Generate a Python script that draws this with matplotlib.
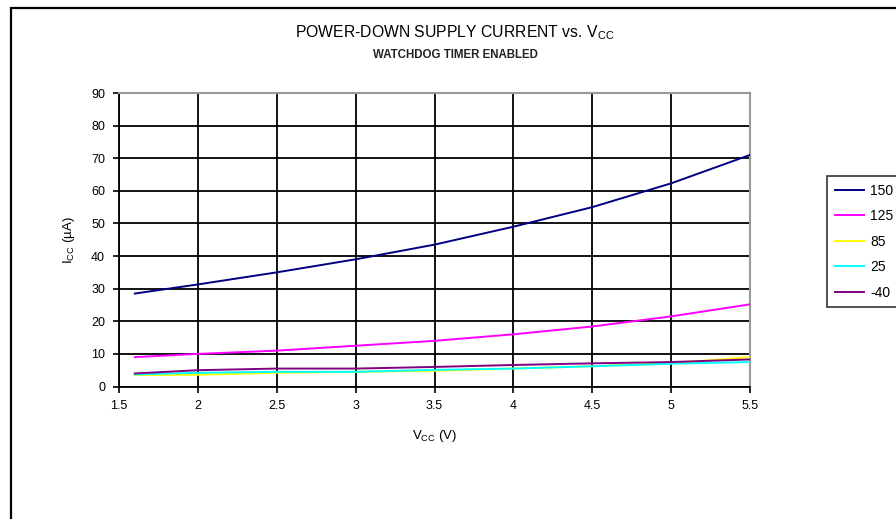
import matplotlib
matplotlib.use("Agg")
import matplotlib.pyplot as plt
from matplotlib.patches import Rectangle

plt.rcParams['font.family'] = ['Liberation Sans', 'DejaVu Sans']

vcc = [1.6, 2.0, 2.5, 3.0, 3.5, 4.0, 4.5, 5.0, 5.5]
series_labels = ["150", "125", "85", "25", "-40"]
i150 = [28.5, 31.3, 35.0, 39.0, 43.5, 49.0, 55.0, 62.3, 71.0]
i125 = [9.0, 10.0, 11.0, 12.5, 14.0, 16.0, 18.4, 21.5, 25.2]
i85 = [3.5, 3.6, 4.2, 4.5, 4.8, 5.5, 6.2, 7.2, 9.0]
i25 = [3.7, 4.2, 4.5, 4.5, 5.1, 5.5, 6.2, 7.0, 7.5]
im40 = [4.0, 5.0, 5.5, 5.5, 6.0, 6.6, 7.1, 7.5, 8.3]
colors = ["#000080", "#FF00FF", "#FFFF00", "#00FFFF", "#800080"]
xticks = [1.5, 2, 2.5, 3, 3.5, 4, 4.5, 5, 5.5]
xticklabels = ["1.5", "2", "2.5", "3", "3.5", "4", "4.5", "5", "5.5"]
yticks = list(range(0, 91, 10))

fig = plt.figure(figsize=(8.96, 5.19), dpi=100)
ax = fig.add_axes([119/896, 1 - 386.5/519, (750-119)/896, (386.5-93)/519])

for ys, lab, c in zip([i150, i125, i85, i25, im40], series_labels, colors):
    ax.plot(vcc, ys, color=c, lw=1.4, label=lab, zorder=3)

ax.set_xlim(1.5, 5.5)
ax.set_ylim(0, 90)
ax.set_xticks(xticks)
ax.set_xticklabels(xticklabels)
ax.set_yticks(yticks)
ax.grid(True, color="black", lw=1.3, zorder=1)
ax.set_axisbelow(True)
ax.tick_params(axis='both', direction='out', length=4, width=1.2, labelsize=9, colors='black', pad=6)
for s in ['left', 'bottom']:
    ax.spines[s].set_color('black')
    ax.spines[s].set_linewidth(1.3)
for s in ['top', 'right']:
    ax.spines[s].set_color('#999999')
    ax.spines[s].set_linewidth(1.5)

ax.set_xlabel(r"V$_{\mathregular{CC}}$ (V)", fontsize=9.5, labelpad=11)
ax.set_ylabel(r"I$_{\mathregular{CC}}$ (µA)", fontsize=9.5, labelpad=10)

fig.text(0.508, 1 - 33/519, r"POWER-DOWN SUPPLY CURRENT vs. V$_{\mathregular{CC}}$", ha='center', va='center', fontsize=11.3)
fig.text(0.508, 1 - 55/519, "WATCHDOG TIMER ENABLED", ha='center', va='center', fontsize=8.3,
         fontweight='bold', color='#222222')

leg = ax.legend(loc='upper left', bbox_to_anchor=(827/896, 1 - 176/519), bbox_transform=fig.transFigure,
                frameon=True, fancybox=False, edgecolor='black', fontsize=10, handlelength=2.1,
                handletextpad=0.45, labelspacing=0.83, borderpad=0.55, borderaxespad=0)
leg.get_frame().set_linewidth(1.2)

fig.patches.append(Rectangle((11/896, -0.1), 1.2, 1 - 8/519 + 0.1, transform=fig.transFigure,
                             fill=False, edgecolor='black', lw=1.6))

fig.savefig("out.png", dpi=100)
